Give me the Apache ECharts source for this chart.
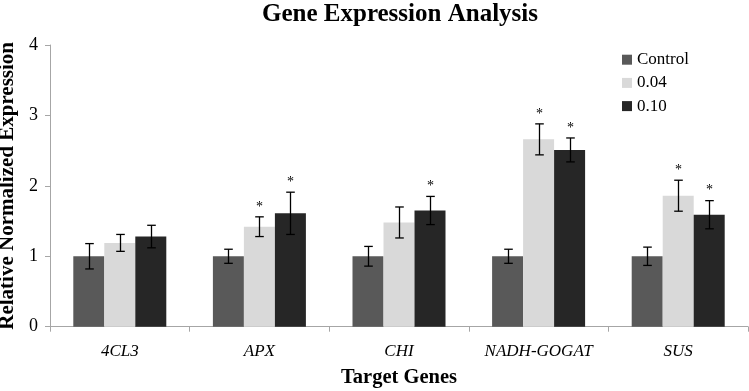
<!DOCTYPE html>
<html>
<head>
<meta charset="utf-8">
<script src="https://cdn.jsdelivr.net/npm/echarts@6/dist/echarts.min.js"></script>
<style>
html,body{margin:0;padding:0;background:#fff;}
#chart{width:749px;height:391px;}
</style>
</head>
<body>
<div id="chart"></div>
<script>
const categories = ['4CL3', 'APX', 'CHI', 'NADH-GOGAT', 'SUS'];
const seriesNames = ['Control', '0.04', '0.10'];
const controlValues = [1.00, 1.00, 1.00, 1.00, 1.00];
const controlErrors = [0.18, 0.10, 0.14, 0.10, 0.13];
const values004 = [1.19, 1.42, 1.48, 2.66, 1.86];
const errors004 = [0.12, 0.14, 0.22, 0.22, 0.22];
const values010 = [1.28, 1.61, 1.65, 2.51, 1.59];
const errors010 = [0.16, 0.30, 0.20, 0.17, 0.20];
const signif004 = [0, 1, 0, 1, 1];
const signif010 = [0, 1, 1, 1, 1];
const signifControl = [0, 0, 0, 0, 0];
const yTicks = [0, 1, 2, 3, 4];

const FONT = '"Liberation Serif", "Times New Roman", Times, serif';
const BAR_W = 31;
const colors = ['#595959', '#d9d9d9', '#262626'];

const groups = [
  [controlValues, controlErrors, signifControl],
  [values004, errors004, signif004],
  [values010, errors010, signif010]
];

const errData = [];
groups.forEach(function (g, k) {
  categories.forEach(function (c, i) {
    errData.push([i, g[0][i] - g[1][i], g[0][i] + g[1][i], g[2][i], k]);
  });
});

function renderErr(params, api) {
  const ci = api.value(0);
  const low = api.value(1);
  const high = api.value(2);
  const sig = api.value(3);
  const k = api.value(4);
  const top = api.coord([ci, high]);
  const bot = api.coord([ci, low]);
  const x = Math.round(top[0] + (k - 1) * BAR_W) + 0.5;
  const cap = 4.3;
  const st = { stroke: '#000', lineWidth: 1.3 };
  const children = [
    { type: 'line', shape: { x1: x, y1: top[1], x2: x, y2: bot[1] }, style: st },
    { type: 'line', shape: { x1: x - cap, y1: top[1], x2: x + cap, y2: top[1] }, style: st },
    { type: 'line', shape: { x1: x - cap, y1: bot[1], x2: x + cap, y2: bot[1] }, style: st }
  ];
  if (sig) {
    children.push({
      type: 'text',
      style: {
        text: '*', x: x, y: top[1] - 3,
        textAlign: 'center', textVerticalAlign: 'bottom',
        font: '14px ' + FONT, fill: '#000'
      }
    });
  }
  return { type: 'group', children: children };
}

const chart = echarts.init(document.getElementById('chart'), null, { renderer: 'canvas' });
chart.setOption({
  animation: false,
  backgroundColor: '#fff',
  title: {
    text: 'Gene Expression Analysis',
    left: 400,
    textAlign: 'center',
    top: 2.5,
    padding: 0,
    textStyle: { fontFamily: FONT, fontSize: 25, fontWeight: 'bold', color: '#000' }
  },
  legend: {
    data: seriesNames,
    orient: 'vertical',
    left: 622,
    top: 51.2,
    padding: 0,
    itemWidth: 10,
    itemHeight: 10,
    itemGap: 6.2,
    icon: 'rect',
    textStyle: { fontFamily: FONT, fontSize: 17, color: '#000', lineHeight: 17 }
  },
  grid: {
    left: 50, right: 1, top: 45, bottom: 64.3,
    outerBoundsMode: 'none'
  },
  xAxis: {
    type: 'category',
    data: categories,
    name: 'Target Genes',
    nameLocation: 'middle',
    nameGap: 41,
    nameTextStyle: { fontFamily: FONT, fontSize: 20.5, fontWeight: 'bold', color: '#000' },
    axisLine: { lineStyle: { color: '#a6a6a6', width: 1 } },
    axisTick: { show: true, length: 5, interval: 0, lineStyle: { color: '#a6a6a6' } },
    axisLabel: { interval: 0, hideOverlap: false, fontFamily: FONT, fontSize: 17, fontStyle: 'italic', color: '#000', margin: 16 }
  },
  yAxis: {
    type: 'value',
    min: 0, max: 4, interval: 1,
    name: 'Relative Normalized Expression',
    nameLocation: 'middle',
    nameGap: 25.5,
    nameTextStyle: { fontFamily: FONT, fontSize: 21, fontWeight: 'bold', color: '#000' },
    axisLine: { show: true, lineStyle: { color: '#a6a6a6', width: 1 } },
    axisTick: { show: true, length: 5, lineStyle: { color: '#a6a6a6' } },
    splitLine: { show: false },
    axisLabel: {
      fontFamily: FONT, fontSize: 18, color: '#000', margin: 12,
      formatter: function (v) { return yTicks.indexOf(v) >= 0 ? String(v) : ''; }
    }
  },
  series: [
    { name: seriesNames[0], type: 'bar', data: controlValues, barWidth: BAR_W, barGap: '0%', itemStyle: { color: colors[0] } },
    { name: seriesNames[1], type: 'bar', data: values004, barWidth: BAR_W, barGap: '0%', itemStyle: { color: colors[1] } },
    { name: seriesNames[2], type: 'bar', data: values010, barWidth: BAR_W, barGap: '0%', itemStyle: { color: colors[2] } },
    {
      type: 'custom', name: 'errors', renderItem: renderErr, data: errData,
      encode: { x: 0, y: [1, 2] }, z: 10, silent: true
    }
  ]
});
</script>
</body>
</html>
